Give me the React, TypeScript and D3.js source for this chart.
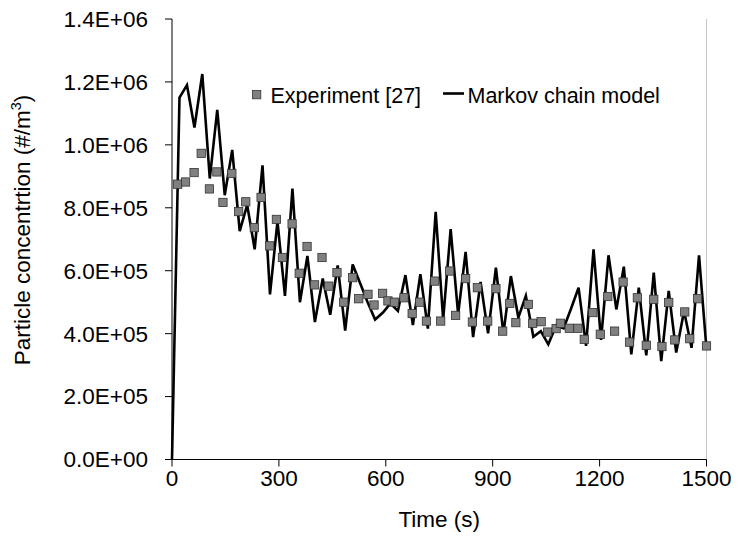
import React from 'react';
import * as d3 from 'd3';

// Markov chain model output (time in s, concentration #/m3)
const modelTime = [
  0, 21, 42, 63, 85, 106, 127, 148, 169, 190, 211, 232, 254, 275, 296, 317, 338, 359, 380, 401,
  423, 444, 465, 486, 507, 528, 549, 570, 592, 613, 634, 655, 676, 697, 718, 740, 761, 782, 803,
  824, 845, 866, 887, 909, 930, 951, 972, 993, 1014, 1035, 1056, 1078, 1099, 1120, 1141, 1162,
  1183, 1204, 1225, 1247, 1268, 1289, 1310, 1331, 1352, 1373, 1394, 1415, 1437, 1458, 1479, 1500
];
const modelValue = [
  0, 1.15e6, 1.19e6, 1.055e6, 1.225e6, 0.893e6, 1.111e6, 0.84e6, 0.984e6, 0.726e6, 0.809e6,
  0.668e6, 0.935e6, 0.525e6, 0.757e6, 0.52e6, 0.861e6, 0.5e6, 0.647e6, 0.437e6, 0.575e6, 0.46e6,
  0.617e6, 0.41e6, 0.62e6, 0.56e6, 0.5e6, 0.445e6, 0.467e6, 0.496e6, 0.472e6, 0.586e6, 0.427e6,
  0.589e6, 0.416e6, 0.787e6, 0.445e6, 0.732e6, 0.461e6, 0.66e6, 0.389e6, 0.564e6, 0.401e6,
  0.61e6, 0.4e6, 0.583e6, 0.451e6, 0.52e6, 0.39e6, 0.408e6, 0.366e6, 0.426e6, 0.417e6, 0.48e6,
  0.546e6, 0.361e6, 0.668e6, 0.38e6, 0.649e6, 0.477e6, 0.613e6, 0.334e6, 0.546e6, 0.331e6,
  0.594e6, 0.313e6, 0.536e6, 0.34e6, 0.472e6, 0.355e6, 0.649e6, 0.35e6
];

// Experiment [27]
const expTime = [
  16, 38, 62, 82, 105, 126, 143, 168, 187, 207, 231, 250, 274, 293, 310, 337, 357, 379, 400, 421,
  440, 463, 482, 507, 524, 550, 567, 591, 606, 624, 651, 674, 695, 714, 737, 754, 779, 796, 824,
  843, 857, 886, 909, 928, 948, 965, 1000, 1012, 1036, 1054, 1078, 1090, 1115, 1139, 1157, 1181,
  1202, 1223, 1242, 1266, 1284, 1306, 1331, 1352, 1375, 1394, 1411, 1439, 1453, 1475, 1500
];
const expValue = [
  0.875e6, 0.882e6, 0.912e6, 0.973e6, 0.86e6, 0.914e6, 0.817e6, 0.909e6, 0.788e6, 0.819e6,
  0.737e6, 0.833e6, 0.679e6, 0.763e6, 0.642e6, 0.749e6, 0.592e6, 0.677e6, 0.555e6, 0.642e6,
  0.551e6, 0.594e6, 0.5e6, 0.578e6, 0.511e6, 0.525e6, 0.491e6, 0.528e6, 0.504e6, 0.5e6, 0.514e6,
  0.464e6, 0.5e6, 0.44e6, 0.567e6, 0.44e6, 0.599e6, 0.458e6, 0.575e6, 0.437e6, 0.546e6, 0.44e6,
  0.543e6, 0.408e6, 0.496e6, 0.435e6, 0.493e6, 0.433e6, 0.438e6, 0.405e6, 0.416e6, 0.433e6,
  0.417e6, 0.417e6, 0.382e6, 0.467e6, 0.398e6, 0.518e6, 0.408e6, 0.564e6, 0.373e6, 0.514e6,
  0.363e6, 0.509e6, 0.359e6, 0.499e6, 0.38e6, 0.469e6, 0.384e6, 0.511e6, 0.361e6
];

const xTicks = [0, 300, 600, 900, 1200, 1500];
const yTicks = [0, 2e5, 4e5, 6e5, 8e5, 1e6, 1.2e6, 1.4e6];
const yTickLabels = ['0.0E+00', '2.0E+05', '4.0E+05', '6.0E+05', '8.0E+05', '1.0E+06', '1.2E+06', '1.4E+06'];

const FONT = '"Liberation Sans", Arial, sans-serif';

export default function App() {
  const left = 172, right = 706.5, top = 19, bottom = 459.5;

  const x = d3.scaleLinear().domain([0, 1500]).range([left, right]);
  const y = d3.scaleLinear().domain([0, 1.4e6]).range([bottom, top]);

  const line = d3
    .line<number>()
    .x((d, i) => x(modelTime[i]))
    .y(d => y(d));

  const sq = 8.3;

  return (
    <svg
      width={738}
      height={540}
      style={{ position: 'absolute', left: 0, top: 0, background: '#fff' }}
      fontFamily={FONT}
    >
      {/* right border of plot area */}
      <line x1={right} x2={right} y1={top} y2={bottom} stroke="#c4c4c4" strokeWidth={1} />

      {/* y axis */}
      <line x1={left} x2={left} y1={top} y2={bottom} stroke="#000" strokeWidth={1} />
      {yTicks.map((t, i) => (
        <g key={t}>
          <line x1={left - 7} x2={left} y1={y(t)} y2={y(t)} stroke="#000" />
          <text x={148} y={y(t)} dy="0.35em" textAnchor="end" fontSize={22.5}>
            {yTickLabels[i]}
          </text>
        </g>
      ))}

      {/* x axis */}
      <line x1={left} x2={right} y1={bottom} y2={bottom} stroke="#000" strokeWidth={1} />
      {xTicks.map(t => (
        <g key={t}>
          <line x1={x(t)} x2={x(t)} y1={bottom} y2={bottom + 7} stroke="#000" />
          <text x={x(t)} y={486} textAnchor="middle" fontSize={22.5}>
            {t}
          </text>
        </g>
      ))}

      <text x={(left + right) / 2} y={527} textAnchor="middle" fontSize={22.5}>
        Time (s)
      </text>
      <text
        transform={`translate(30,230) rotate(-90)`}
        textAnchor="middle"
        fontSize={22.5}
      >
        Particle concentrtion (#/m
        <tspan fontSize={14.5} dy={-9}>3</tspan>
        <tspan dy={9}>)</tspan>
      </text>

      {/* model line */}
      <path d={line(modelValue) || ''} fill="none" stroke="#000" strokeWidth={2.6} />

      {/* experiment squares */}
      {expValue.map((v, i) => (
        <rect
          key={i}
          x={x(expTime[i]) - sq / 2}
          y={y(v) - sq / 2}
          width={sq}
          height={sq}
          fill="#808080"
          stroke="#333"
          strokeWidth={0.8}
        />
      ))}

      {/* legend */}
      <rect x={252.5} y={90.5} width={sq} height={sq} fill="#808080" stroke="#333" strokeWidth={0.8} />
      <text x={270.5} y={102.5} fontSize={21.5}>Experiment [27]</text>
      <line x1={443} x2={464} y1={93.5} y2={93.5} stroke="#000" strokeWidth={2.6} />
      <text x={467.5} y={102.5} fontSize={21.5}>Markov chain model</text>
    </svg>
  );
}
